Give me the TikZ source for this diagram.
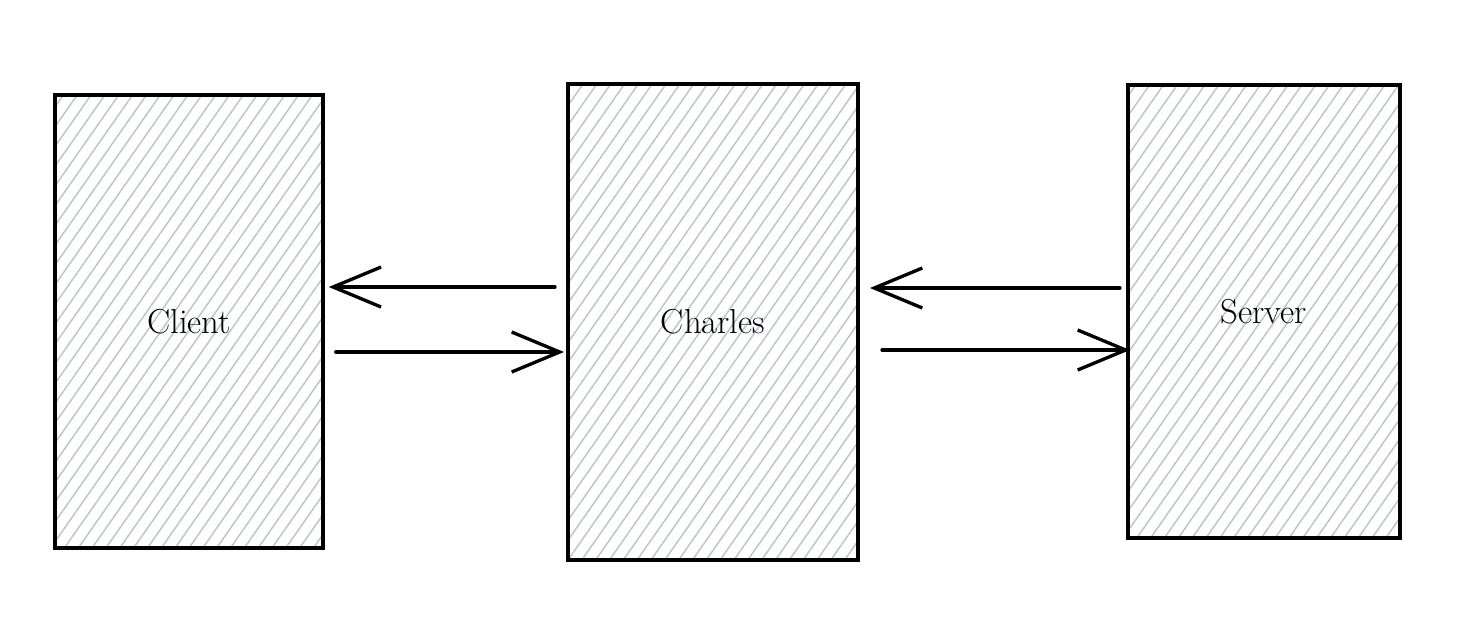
\documentclass[tikz,border=0pt]{standalone}
\usepackage{amsmath}
\usepackage{tikz}
\usetikzlibrary{patterns.meta,arrows.meta}

\definecolor{hatchgray}{RGB}{188,196,206}

\tikzset{
  sketchbox/.style={draw=black, line width=3pt, line cap=round, inner sep=0pt,
    pattern={Lines[angle=55,distance=8.5pt,line width=1.1pt]}, pattern color=hatchgray,
    font=\fontsize{26}{30}\selectfont},
  sketcharrow/.style={line width=2.5pt, line cap=round,
    -{Straight Barb[length=36pt,width=30pt,line width=2.5pt]}}
}

\begin{document}
\begin{tikzpicture}[x=0.75pt,y=0.75pt,yscale=-1,xscale=1]
\useasboundingbox (0,0) rectangle (1478,640);

%Shapes
\node [sketchbox, minimum width=201pt, minimum height=339.75pt] (client) at (189,321.5) {Client};
\node [sketchbox, minimum width=217.5pt, minimum height=357pt] (charles) at (713,322) {Charles};
\node [sketchbox, minimum width=204pt, minimum height=339.75pt] (server) at (1264,311.5) {Server};

%Arrows Client <-> Charles
\draw [sketcharrow, shorten <=8.25pt, shorten >=3.75pt] (charles.west |- 0,287) -- (client.east |- 0,287) ;
\draw [sketcharrow, shorten <=9pt, shorten >=1.5pt] (client.east |- 0,352) -- (charles.west |- 0,352) ;

%Arrows Charles <-> Server
\draw [sketcharrow, shorten <=4.5pt, shorten >=7.5pt] (server.west |- 0,288) -- (charles.east |- 0,288) ;
\draw [sketcharrow, shorten <=16.5pt, shorten >=-3pt] (charles.east |- 0,350) -- (server.west |- 0,350) ;

\end{tikzpicture}
\end{document}
